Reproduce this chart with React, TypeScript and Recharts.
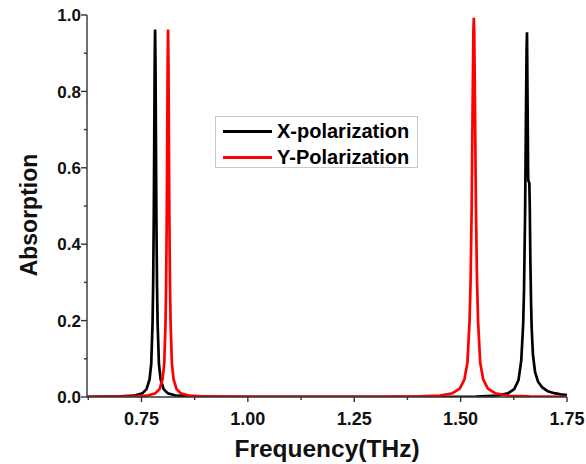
import React from 'react';
import { LineChart, Line, XAxis, YAxis, Legend, Label } from 'recharts';

// X-polarization (black)
const xPolFreq = [
  0.622, 0.66, 0.70, 0.732, 0.752, 0.762, 0.769, 0.773, 0.776, 0.7775, 0.779, 0.780, 0.781, 0.782,
  0.783, 0.784, 0.785, 0.7865, 0.788, 0.791, 0.795, 0.802, 0.812, 0.832, 0.862, 0.95, 1.10, 1.30,
  1.45, 1.536, 1.586, 1.611, 1.626, 1.636, 1.6425, 1.647, 1.649, 1.6515, 1.6535, 1.655, 1.656,
  1.6575, 1.6585, 1.659, 1.6615, 1.6625, 1.664, 1.6655, 1.667, 1.670, 1.675, 1.682, 1.692, 1.705,
  1.72, 1.735, 1.75,
];
const xPolAbs = [
  0.0005, 0.0008, 0.0014, 0.0034, 0.0094, 0.0207, 0.046, 0.0875, 0.192, 0.296, 0.481, 0.666, 0.866, 0.962,
  0.866, 0.666, 0.481, 0.296, 0.192, 0.0875, 0.046, 0.0207, 0.0094, 0.0034, 0.0014, 0.0006, 0.0003, 0.0003,
  0.0006, 0.0013, 0.0039, 0.0095, 0.0206, 0.0439, 0.0955, 0.191, 0.28, 0.478, 0.73, 0.91, 0.955,
  0.75, 0.6, 0.567, 0.56, 0.5, 0.35, 0.25, 0.18, 0.11, 0.065, 0.04, 0.025, 0.015,
  0.01, 0.007, 0.005,
];

// Y-polarization (red)
const yPolFreq = [
  0.622, 0.66, 0.70, 0.7325, 0.7625, 0.7825, 0.7925, 0.7995, 0.8035, 0.8065, 0.808, 0.8095, 0.8105,
  0.8115, 0.8125, 0.8135, 0.8145, 0.8155, 0.817, 0.8185, 0.8215, 0.8255, 0.8325, 0.8425, 0.8625,
  0.8925, 0.95, 1.10, 1.30, 1.40, 1.451, 1.481, 1.498, 1.509, 1.516, 1.521, 1.5235, 1.526, 1.5285,
  1.530, 1.531, 1.532, 1.5335, 1.536, 1.5385, 1.541, 1.546, 1.553, 1.564, 1.581, 1.611, 1.661, 1.75,
];
const yPolAbs = [
  0.0004, 0.0007, 0.001, 0.0014, 0.0034, 0.0094, 0.0207, 0.046, 0.0875, 0.192, 0.296, 0.481, 0.666,
  0.866, 0.962, 0.866, 0.666, 0.481, 0.296, 0.192, 0.0875, 0.046, 0.0207, 0.0094, 0.0034,
  0.0014, 0.0008, 0.0004, 0.0006, 0.0015, 0.0039, 0.0098, 0.0218, 0.0464, 0.0903, 0.1986, 0.306, 0.4965, 0.794,
  0.955, 0.993, 0.955, 0.794, 0.4965, 0.306, 0.1986, 0.0903, 0.0464, 0.0218, 0.0098, 0.0039, 0.0015, 0.0006,
];

const xMajorTicks = [0.75, 1.0, 1.25, 1.5, 1.75];
const xMinorTicks = [0.625, 0.875, 1.125, 1.375, 1.625];
const yMajorTicks = [0, 0.2, 0.4, 0.6, 0.8, 1.0];
const yMinorTicks = [0.1, 0.3, 0.5, 0.7, 0.9];
const topTicks = [1, 2, 3, 4, 5, 6, 7, 8, 9];

const seriesNames = ['X-polarization', 'Y-Polarization'];
const seriesColors = ['#000000', '#ff0000'];

const xPolData = xPolFreq.map((f, i) => ({ x: f, y: xPolAbs[i] }));
const yPolData = yPolFreq.map((f, i) => ({ x: f, y: yPolAbs[i] }));

const FONT = "'Liberation Sans', Arial, sans-serif";
const AXIS = '#333333';
const AXW = 1.4;

const isIn = (arr: number[], v: number) => arr.some((t) => Math.abs(t - v) < 1e-9);
const allX = [...xMajorTicks, ...xMinorTicks].sort((a, b) => a - b);
const allY = [...yMajorTicks, ...yMinorTicks].sort((a, b) => a - b);

const BottomTick = (props: any) => {
  const { x, y, payload } = props;
  const v = payload.value;
  const major = isIn(xMajorTicks, v);
  return (
    <g>
      <line x1={x} x2={x} y1={y} y2={y + (major ? 5 : 3)} stroke={AXIS} strokeWidth={AXW} />
      {major && (
        <text x={x} y={y + 28} textAnchor="middle" fontSize={18} fontWeight="bold" fill="#111" fontFamily={FONT}>
          {v.toFixed(2)}
        </text>
      )}
    </g>
  );
};

const LeftTick = (props: any) => {
  const { x, y, payload } = props;
  const v = payload.value;
  const major = isIn(yMajorTicks, v);
  return (
    <g>
      <line x1={x - (major ? 6 : 3)} x2={x} y1={y} y2={y} stroke={AXIS} strokeWidth={AXW} />
      {major && (
        <text x={x - 6} y={y} dy="0.36em" textAnchor="end" fontSize={17} fontWeight="bold" fill="#111" fontFamily={FONT}>
          {v.toFixed(1)}
        </text>
      )}
    </g>
  );
};

const RightTick = (props: any) => {
  const { x, y, payload } = props;
  const major = isIn(yMajorTicks, payload.value);
  return <line x1={x - (major ? 6 : 3)} x2={x} y1={y} y2={y} stroke={AXIS} strokeWidth={AXW} />;
};

const TopTick = (props: any) => {
  const { x, y } = props;
  return <line x1={x} x2={x} y1={y} y2={y + 4} stroke={AXIS} strokeWidth={AXW} />;
};

const LegendBox = () => (
  <div
    style={{
      border: '1px solid #c8c8c8',
      background: '#fff',
      width: 201,
      height: 50,
      position: 'relative',
      fontFamily: FONT,
      fontWeight: 'bold',
      fontSize: 20,
      color: '#000',
    }}
  >
    {seriesNames.map((n, i) => (
      <div key={n} style={{ position: 'absolute', left: 7, top: i === 0 ? 3 : 29, height: 22, display: 'flex', alignItems: 'center' }}>
        <div style={{ width: 49, height: 3, background: seriesColors[i], marginRight: 5 }} />
        <span style={{ lineHeight: '22px', whiteSpace: 'nowrap' }}>{n}</span>
      </div>
    ))}
  </div>
);

export default function App() {
  return (
    <div style={{ position: 'absolute', left: 0, top: 0, width: 586, height: 464, background: '#fff' }}>
      <LineChart width={586} height={464} margin={{ top: 15, right: 19, left: 0, bottom: 0 }}>
        <XAxis
          xAxisId="bottom"
          dataKey="x"
          type="number"
          domain={[0.622, 1.75]}
          allowDataOverflow
          ticks={allX}
          interval={0}
          height={67}
          tickSize={0}
          tickMargin={0}
          tickLine={false}
          axisLine={{ stroke: AXIS, strokeWidth: AXW }}
          tick={<BottomTick />}
        >
          <Label
            value="Frequency(THz)"
            position="insideBottom"
            offset={7}
            style={{ fontFamily: FONT, fontWeight: 'bold', fontSize: 24.5, fill: '#111' }}
          />
        </XAxis>
        <XAxis
          xAxisId="top"
          orientation="top"
          type="number"
          domain={[0, 10]}
          allowDataOverflow
          ticks={topTicks}
          interval={0}
          height={0}
          tickSize={0}
          tickMargin={0}
          tickLine={false}
          axisLine={{ stroke: AXIS, strokeWidth: AXW }}
          tick={<TopTick />}
        />
        <YAxis
          yAxisId="left"
          type="number"
          domain={[0, 1]}
          allowDataOverflow
          ticks={allY}
          interval={0}
          width={87}
          tickSize={0}
          tickMargin={0}
          tickLine={false}
          axisLine={{ stroke: AXIS, strokeWidth: AXW }}
          tick={<LeftTick />}
        >
          <Label
            content={() => (
              <text
                x={37}
                y={215}
                transform="rotate(-90, 37, 215)"
                textAnchor="middle"
                fontFamily={FONT}
                fontWeight="bold"
                fontSize={23}
                fill="#111"
              >
                Absorption
              </text>
            )}
          />
        </YAxis>
        <YAxis
          yAxisId="right"
          orientation="right"
          type="number"
          domain={[0, 1]}
          allowDataOverflow
          ticks={allY}
          interval={0}
          width={0}
          tickSize={0}
          tickMargin={0}
          tickLine={false}
          axisLine={{ stroke: AXIS, strokeWidth: AXW }}
          tick={<RightTick />}
        />
        <Legend
          layout="horizontal"
          verticalAlign="middle"
          align="center"
          wrapperStyle={{ left: 215, top: 116, width: 203, height: 52 }}
          content={() => <LegendBox />}
        />
        <Line
          xAxisId="bottom"
          yAxisId="left"
          data={xPolData}
          dataKey="y"
          name={seriesNames[0]}
          type="linear"
          stroke={seriesColors[0]}
          strokeWidth={2.7}
          dot={false}
          activeDot={false}
          isAnimationActive={false}
        />
        <Line
          xAxisId="bottom"
          yAxisId="left"
          data={yPolData}
          dataKey="y"
          name={seriesNames[1]}
          type="linear"
          stroke={seriesColors[1]}
          strokeWidth={2.7}
          dot={false}
          activeDot={false}
          isAnimationActive={false}
        />
      </LineChart>
    </div>
  );
}
